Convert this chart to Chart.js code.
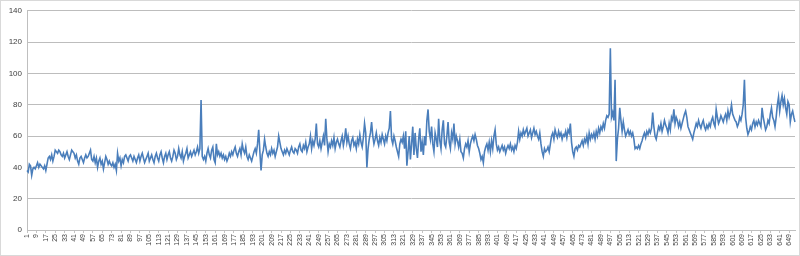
<!DOCTYPE html>
<html>
<head>
<meta charset="utf-8">
<script src="https://cdn.jsdelivr.net/npm/chart.js@4.4.1/dist/chart.umd.min.js"></script>
<style>
  html, body { margin: 0; padding: 0; background: #fff; }
  #wrap { width: 800px; height: 256px; box-sizing: border-box; border: 1px solid #d9d9d9; position: relative; }
</style>
</head>
<body>
<div id="wrap"><canvas id="chart"></canvas></div>
<script>
// valeurs (une par catégorie)
const values = [
  38, 37, 42, 41, 35, 39, 40, 39, 41, 43,
  40, 42, 41, 40, 39, 41, 38, 42, 46, 47,
  45, 48, 44, 47, 51, 50, 49, 51, 50, 48,
  47, 49, 46, 48, 50, 47, 45, 48, 51, 50,
  49, 46, 48, 44, 42, 46, 47, 45, 43, 46,
  48, 46, 47, 49, 51, 45, 44, 47, 43, 46,
  40, 44, 46, 42, 44, 39, 43, 47, 45, 42,
  44, 42, 41, 43, 40, 42, 38, 49, 44, 46,
  41, 45, 43, 47, 48, 46, 44, 47, 48, 46,
  44, 47, 45, 43, 46, 48, 44, 47, 49, 46,
  43, 45, 47, 49, 44, 46, 48, 45, 43, 47,
  49, 46, 44, 48, 50, 46, 43, 47, 49, 45,
  48, 50, 46, 44, 47, 51, 49, 45, 47, 52,
  48, 46, 50, 44, 47, 49, 52, 46, 48, 50,
  47, 49, 51, 48, 50, 53, 49, 52, 83, 47,
  45, 47, 44, 49, 52, 48, 46, 51, 53, 45,
  43, 55, 48, 50, 47, 49, 46, 48, 45, 47,
  44, 46, 49, 47, 50, 48, 51, 53, 49, 47,
  50, 52, 48, 55, 51, 49, 53, 47, 45, 48,
  46, 44, 47, 50, 52, 49, 55, 64, 50, 38,
  48, 51, 58, 53, 49, 47, 50, 48, 52, 49,
  51, 47, 50, 53, 60, 56, 52, 50, 48, 51,
  49, 52, 50, 48, 51, 53, 50, 49, 52, 51,
  49, 53, 55, 51, 50, 54, 52, 56, 50, 53,
  55, 60, 52, 57, 54, 58, 68, 55, 53, 57,
  52, 56, 60, 54, 71, 58, 50, 55, 53, 57,
  54, 59, 52, 56, 58, 55, 53, 57, 60, 54,
  58, 65, 56, 60, 55, 52, 57, 59, 54, 56,
  52, 58, 55, 61, 56, 53, 59, 68, 62, 40,
  52, 58, 62, 69, 60, 55, 58, 62, 57, 54,
  59, 56, 61, 58, 55, 60, 57, 62, 65, 76,
  58, 55, 60, 57, 53, 50, 47, 55, 58, 56,
  60, 52, 63, 41, 50, 60, 45, 55, 66, 48,
  62, 52, 46, 58, 65, 50, 56, 48, 60, 54,
  70, 77, 63, 58, 66, 55, 50, 62, 58, 53,
  71, 57, 52, 64, 70, 55, 53, 60, 69, 56,
  52, 62, 58, 68, 55, 60, 57, 53, 58, 50,
  49, 46, 52, 55, 53, 57, 50, 55, 58, 60,
  57, 61, 58, 54, 52, 49, 45, 47, 43, 50,
  53, 55, 51, 56, 50, 57, 52, 60, 64, 55,
  51, 53, 50, 52, 54, 51, 53, 49, 52, 54,
  52, 55, 51, 53, 50, 54, 52, 56, 63, 58,
  62, 60, 64, 61, 63, 65, 60, 62, 64, 59,
  62, 65, 61, 63, 60, 58, 62, 55, 50, 47,
  52, 50, 51, 53, 50, 55, 60, 62, 58, 64,
  61, 59, 63, 60, 62, 58, 61, 60, 63, 59,
  64, 62, 68, 56, 50, 47, 52, 53, 51, 54,
  53, 55, 57, 54, 58, 56, 60, 55, 62, 58,
  61, 59, 62, 58, 63, 60, 65, 62, 66, 64,
  68, 65, 70, 73, 72, 74, 116, 72, 75, 70,
  96, 44, 58, 65, 78, 70, 63, 69, 64, 60,
  62, 64, 61, 63, 60, 62, 58, 52, 53, 52,
  54, 52, 55, 57, 60, 62, 59, 63, 61, 64,
  62, 65, 75, 66, 60, 58, 62, 66, 64, 68,
  63, 66, 70, 67, 65, 62, 68, 64, 72, 70,
  77, 68, 72, 70, 66, 69, 65, 68, 71, 74,
  76, 72, 66, 64, 62, 60, 58, 62, 65, 68,
  66, 70, 67, 65, 68, 70, 66, 64, 67, 65,
  68, 66, 70, 72, 68, 66, 77, 72, 68, 70,
  73, 71, 69, 72, 74, 70, 76, 72, 75, 80,
  74, 72, 70, 69, 66, 68, 72, 70, 74, 80,
  96, 72, 65, 61, 63, 66, 64, 68, 70, 66,
  69, 67, 70, 68, 66, 78, 72, 68, 64, 66,
  70, 68, 74, 78, 72, 70, 66, 72, 80, 85,
  76, 82, 86, 80, 84, 78, 74, 82, 80, 69,
  74, 76, 72, 69
];

// catégories 1..N
const categories = values.map((v, i) => String(i + 1));

// graduations de l'axe Y
const yTicks = [0, 20, 40, 60, 80, 100, 120, 140];
const labelStep = 8;

const ctx = document.getElementById('chart').getContext('2d');
new Chart(ctx, {
  type: 'line',
  data: {
    labels: categories,
    datasets: [{
      data: values,
      borderColor: '#4a7ebb',
      borderWidth: 1.6,
      pointRadius: 0,
      tension: 0,
      fill: false
    }]
  },
  options: {
    responsive: true,
    maintainAspectRatio: false,
    animation: false,
    layout: { padding: { top: 6, right: 4, left: 0, bottom: 0 } },
    plugins: { legend: { display: false }, tooltip: { enabled: false } },
    scales: {
      x: {
        offset: false,
        grid: { drawOnChartArea: false, drawTicks: true, tickLength: 3, color: '#c4c4c4' },
        border: { color: '#bfbfbf' },
        ticks: {
          autoSkip: false,
          maxRotation: 90,
          minRotation: 90,
          padding: 1,
          color: '#404040',
          font: { family: 'Liberation Sans', size: 7 },
          callback: function (v, i) {
            return i % labelStep === 0 ? this.getLabelForValue(v) : null;
          }
        },
        afterFit: (s) => { s.height = 25; }
      },
      y: {
        min: yTicks[0],
        max: yTicks[yTicks.length - 1],
        afterBuildTicks: (s) => { s.ticks = yTicks.map(v => ({ value: v })); },
        grid: { color: '#bdbdbd', drawTicks: false },
        border: { color: '#bfbfbf' },
        ticks: {
          padding: 5,
          color: '#404040',
          font: { family: 'Liberation Sans', size: 8 }
        },
        afterFit: (s) => { s.width = 26; }
      }
    }
  }
});
</script>
</body>
</html>
